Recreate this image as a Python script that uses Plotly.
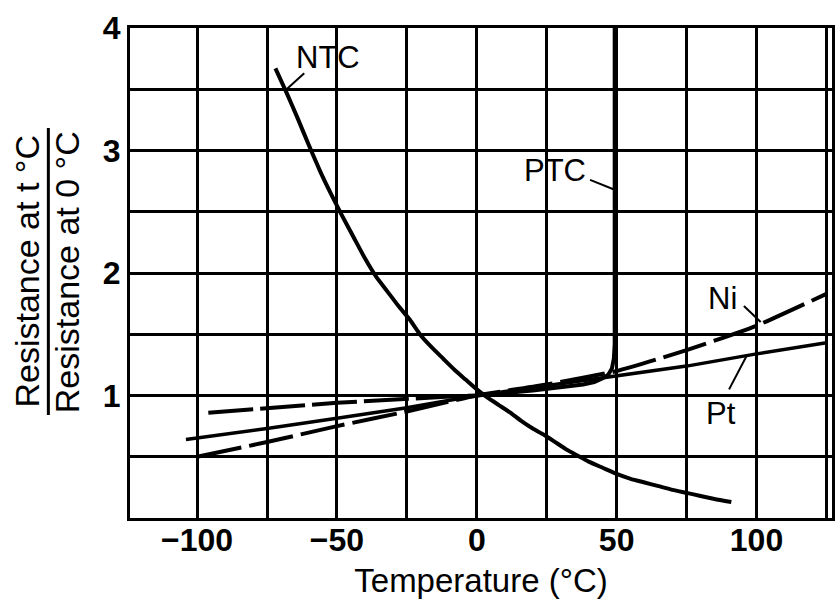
import plotly.graph_objects as go

# Temperature axis (°C) and resistance-ratio axis ticks; grid every 25 °C and 0.5
temp_ticks = [-125, -100, -75, -50, -25, 0, 25, 50, 75, 100, 125]
temp_tick_text = ["", "−100", "", "−50", "", "0", "", "50", "", "100", ""]
ratio_ticks = [0, 0.5, 1, 1.5, 2, 2.5, 3, 3.5, 4]
ratio_tick_text = ["", "", "1", "", "2", "", "3", "", "4"]

# NTC thermistor
ntc_t = [-72, -68, -64, -60, -56, -52, -48, -44, -40, -36, -32, -28, -24, -20, -16, -12,
         -8, -4, 0, 4, 8, 12, 16, 20, 24, 28, 32, 36, 40, 45, 50, 55, 60, 65, 70, 75,
         80, 85, 91]
ntc_r = [3.67, 3.47, 3.26, 3.04, 2.83, 2.64, 2.46, 2.29, 2.12, 1.97, 1.85, 1.73, 1.62,
         1.49, 1.39, 1.30, 1.21, 1.13, 1.05, 0.98, 0.92, 0.86, 0.79, 0.73, 0.68, 0.62,
         0.56, 0.51, 0.46, 0.41, 0.36, 0.32, 0.29, 0.26, 0.23, 0.205, 0.18, 0.155, 0.13]

# PTC thermistor
ptc_t = [-96, -50, -11, 0, 20, 38, 42, 45, 47, 48.3, 49.0, 49.3, 49.3]
ptc_r = [0.86, 0.94, 0.99, 1.0, 1.04, 1.09, 1.11, 1.14, 1.17, 1.22, 1.3, 1.42, 4.0]

# Nickel
ni_t = [-100, -75, -50, -25, 0, 25, 50, 75, 100, 125]
ni_r = [0.50, 0.62, 0.75, 0.87, 1.0, 1.09, 1.2, 1.37, 1.57, 1.83]

# Platinum
pt_t = [-104, -75, -50, -25, 0, 25, 50, 75, 100, 125]
pt_r = [0.64, 0.73, 0.815, 0.9, 1.0, 1.08, 1.16, 1.24, 1.34, 1.43]

FONT = "Liberation Sans, Arial, Helvetica, sans-serif"
INK = "black"

fig = go.Figure()
fig.add_trace(go.Scatter(x=ntc_t, y=ntc_r, mode="lines",
                         line=dict(color=INK, width=4, shape="spline", smoothing=0.5)))

# PTC: broken stroke on the cold side, solid through the switching region
split = ptc_t.index(0)
fig.add_trace(go.Scatter(x=ptc_t[:split + 1], y=ptc_r[:split + 1], mode="lines",
                         line=dict(color=INK, width=4, dash="45px,7px")))
fig.add_trace(go.Scatter(x=ptc_t[split:], y=ptc_r[split:], mode="lines",
                         line=dict(color=INK, width=4)))

fig.add_trace(go.Scatter(x=ni_t, y=ni_r, mode="lines",
                         line=dict(color=INK, width=4, dash="45px,8px", shape="spline", smoothing=0.5)))
fig.add_trace(go.Scatter(x=pt_t, y=pt_r, mode="lines",
                         line=dict(color=INK, width=3.5)))

# Curve labels with leader lines
labels = [
    ("NTC", -53.2, 3.76, (-61.7, 3.63), (-68.5, 3.49)),
    ("PTC", 28.0, 2.84, (40.5, 2.76), (49.3, 2.68)),
    ("Ni", 88.0, 1.79, (95.5, 1.73), (101.5, 1.60)),
    ("Pt", 87.3, 0.85, (90.2, 1.05), (96.4, 1.32)),
]
for text, lx, ly, p0, p1 in labels:
    fig.add_annotation(x=lx, y=ly, text=text, showarrow=False,
                       font=dict(family=FONT, size=31, color=INK),
                       xanchor="center", yanchor="middle")
    fig.add_shape(type="line", x0=p0[0], y0=p0[1], x1=p1[0], y1=p1[1],
                  line=dict(color=INK, width=2))

# Y-axis title drawn as a fraction
fig.add_annotation(xref="paper", yref="paper", x=-0.146, y=0.502,
                   text="Resistance at t °C", textangle=-90, showarrow=False,
                   font=dict(family=FONT, size=34, color=INK),
                   xanchor="center", yanchor="middle")
fig.add_annotation(xref="paper", yref="paper", x=-0.0895, y=0.502,
                   text="Resistance at 0 °C", textangle=-90, showarrow=False,
                   font=dict(family=FONT, size=34, color=INK),
                   xanchor="center", yanchor="middle")
fig.add_shape(type="line", xref="paper", yref="paper",
              x0=-0.1163, x1=-0.1163, y0=0.21, y1=0.796,
              line=dict(color=INK, width=3))

axis_common = dict(showline=True, mirror=True, linecolor=INK, linewidth=3,
                   showgrid=True, gridcolor=INK, gridwidth=3, zeroline=False,
                   ticks="", tickmode="array",
                   tickfont=dict(family=FONT, size=32, color=INK, weight="bold"))

fig.update_layout(
    width=837, height=600,
    margin=dict(l=130, r=2, t=28, b=82),
    paper_bgcolor="white", plot_bgcolor="white",
    showlegend=False,
    xaxis=dict(range=[-124, 127], tickvals=temp_ticks, ticktext=temp_tick_text,
               ticklabelstandoff=-8,
               title=dict(text="Temperature (°C)", standoff=12,
                          font=dict(family=FONT, size=33, color=INK)),
               **axis_common),
    yaxis=dict(range=[0, 4], tickvals=ratio_ticks, ticktext=ratio_tick_text,
               **axis_common),
)

fig.write_html("out.html")
